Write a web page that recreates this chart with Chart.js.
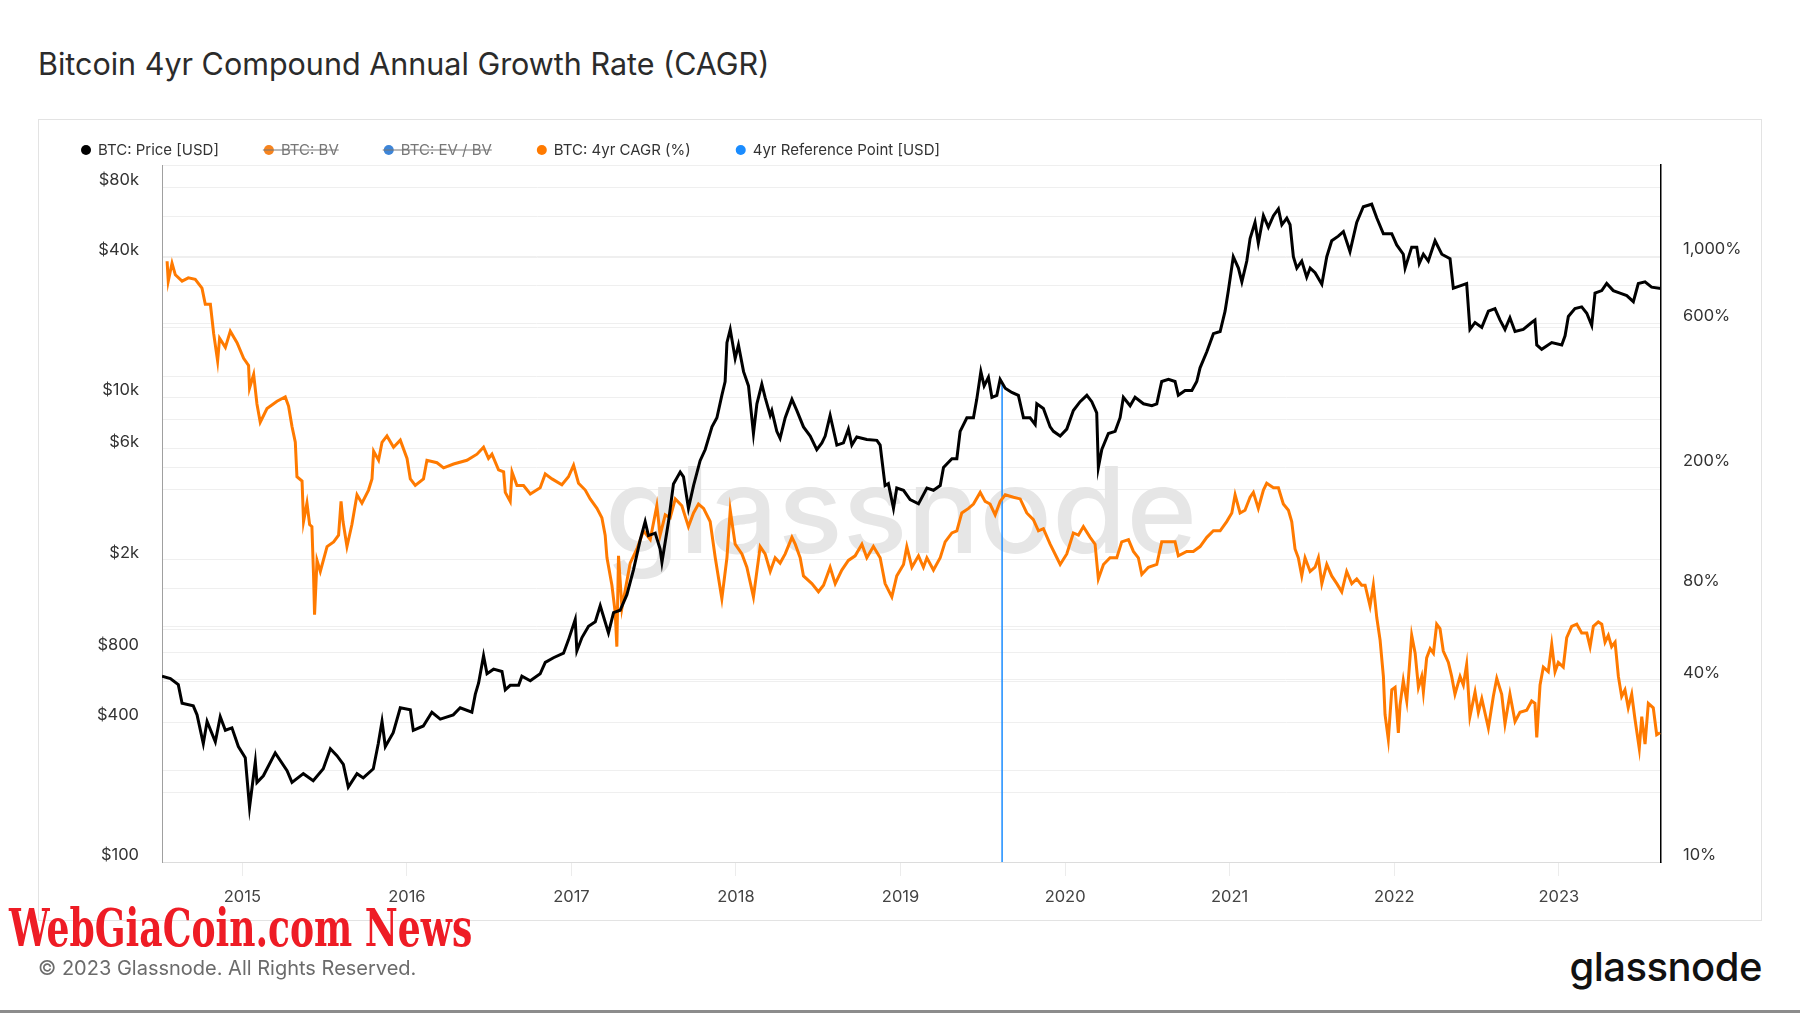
<!DOCTYPE html>
<html>
<head>
<meta charset="utf-8">
<script src="https://cdn.jsdelivr.net/npm/chart.js@4.4.0/dist/chart.umd.min.js"></script>
<style>
  html, body { margin: 0; padding: 0; background: #fff; }
  body { width: 1800px; height: 1013px; position: relative; overflow: hidden; font-family: Inter, 'Noto Sans', sans-serif; }
  #title { position: absolute; left: 38px; top: 45px; font-size: 30.5px; font-weight: 400; color: #2b2b2b; line-height: 38px; white-space: nowrap; }
  #card { position: absolute; left: 38px; top: 119px; width: 1724px; height: 802px; box-sizing: border-box; border: 1px solid #e3e3e3; }
  #wrap { position: absolute; left: 38px; top: 119px; width: 1724px; height: 802px; }
  #news { position: absolute; left: 9px; top: 898px; font-family: 'DejaVu Serif', serif; font-weight: bold; font-size: 52px; line-height: 60px; color: #ee1c25; white-space: nowrap; transform-origin: left top; }
  #copy { position: absolute; left: 38px; top: 955px; font-size: 20px; line-height: 26px; color: #6b6b6b; white-space: nowrap; }
  #logo { position: absolute; right: 38px; top: 943px; font-size: 40px; line-height: 48px; font-weight: 500; color: #111; letter-spacing: -0.5px; }
  #bottomline { position: absolute; left: 0; top: 1010px; width: 1800px; height: 3px; background: #8c8c8c; }
</style>
</head>
<body>
<div id="title">Bitcoin 4yr Compound Annual Growth Rate (CAGR)</div>
<div id="card"></div>
<div id="wrap"><canvas id="cagrChart"></canvas></div>
<div id="news">WebGiaCoin.com News</div>
<div id="copy">© 2023 Glassnode. All Rights Reserved.</div>
<div id="logo">glassnode</div>
<div id="bottomline"></div>
<script>
// BTC price [USD] (decimal years)
var priceYears = [
  2014.512, 2014.563, 2014.611, 2014.634, 2014.702, 2014.725, 2014.763, 2014.786, 2014.836, 2014.866, 2014.897, 2014.937, 2014.976,
  2015.018, 2015.044, 2015.079, 2015.089, 2015.128, 2015.200, 2015.272, 2015.302, 2015.371, 2015.431, 2015.492, 2015.535, 2015.575, 2015.614, 2015.644, 2015.697, 2015.735, 2015.796, 2015.826, 2015.849, 2015.869, 2015.917, 2015.960,
  2016.021, 2016.039, 2016.100, 2016.152, 2016.203, 2016.282, 2016.324, 2016.395, 2016.416, 2016.436, 2016.466, 2016.487, 2016.527, 2016.578, 2016.598, 2016.628, 2016.679, 2016.699, 2016.750, 2016.810, 2016.841, 2016.891, 2016.952, 2016.982,
  2017.023, 2017.033, 2017.064, 2017.104, 2017.145, 2017.175, 2017.225, 2017.256, 2017.296, 2017.337, 2017.377, 2017.418, 2017.448, 2017.468, 2017.509, 2017.539, 2017.550, 2017.590, 2017.620, 2017.661, 2017.681, 2017.711, 2017.742, 2017.782, 2017.813, 2017.854, 2017.884, 2017.914, 2017.934, 2017.945, 2017.965, 2017.995,
  2018.015, 2018.046, 2018.076, 2018.106, 2018.127, 2018.157, 2018.177, 2018.208, 2018.218, 2018.248, 2018.268, 2018.299, 2018.340, 2018.370, 2018.410, 2018.451, 2018.491, 2018.522, 2018.542, 2018.572, 2018.613, 2018.653, 2018.683, 2018.704, 2018.734, 2018.795, 2018.856, 2018.876, 2018.886, 2018.906, 2018.926, 2018.957, 2018.977,
  2019.018, 2019.058, 2019.109, 2019.160, 2019.200, 2019.241, 2019.261, 2019.312, 2019.342, 2019.362, 2019.403, 2019.443, 2019.463, 2019.488, 2019.508, 2019.534, 2019.555, 2019.585, 2019.605, 2019.636, 2019.676, 2019.716, 2019.747, 2019.787, 2019.818, 2019.828, 2019.868, 2019.909, 2019.929, 2019.970,
  2020.010, 2020.050, 2020.091, 2020.132, 2020.162, 2020.192, 2020.202, 2020.223, 2020.263, 2020.304, 2020.334, 2020.354, 2020.395, 2020.425, 2020.476, 2020.527, 2020.557, 2020.587, 2020.628, 2020.668, 2020.688, 2020.729, 2020.770, 2020.800, 2020.820, 2020.861, 2020.901, 2020.942, 2020.972, 2020.992,
  2021.022, 2021.053, 2021.074, 2021.104, 2021.124, 2021.154, 2021.174, 2021.205, 2021.235, 2021.266, 2021.296, 2021.317, 2021.347, 2021.367, 2021.387, 2021.408, 2021.438, 2021.468, 2021.489, 2021.519, 2021.560, 2021.590, 2021.620, 2021.660, 2021.691, 2021.731, 2021.772, 2021.812, 2021.863, 2021.894, 2021.934, 2021.985,
  2022.015, 2022.055, 2022.066, 2022.106, 2022.137, 2022.152, 2022.177, 2022.207, 2022.248, 2022.289, 2022.339, 2022.359, 2022.400, 2022.440, 2022.460, 2022.491, 2022.532, 2022.572, 2022.612, 2022.643, 2022.673, 2022.703, 2022.734, 2022.784, 2022.835, 2022.855, 2022.866, 2022.896, 2022.957,
  2023.018, 2023.038, 2023.058, 2023.098, 2023.139, 2023.170, 2023.200, 2023.220, 2023.261, 2023.291, 2023.331, 2023.372, 2023.413, 2023.453, 2023.483, 2023.524, 2023.564, 2023.621
];
var priceValues = [
  631, 616, 580, 482, 470, 430, 323, 403, 329, 422, 369, 378, 314,
  281, 172, 270, 220, 235, 295, 247, 220, 240, 224, 252, 307, 287, 263, 210, 240, 230, 252, 323, 403, 314, 360, 461,
  452, 369, 385, 441, 412, 430, 461, 441, 528, 590, 772, 646, 676, 661, 551, 576, 576, 631, 603, 646, 723, 757, 792, 904,
  1105, 810, 925, 1035, 1082, 1268, 968, 1185, 1212, 1415, 1810, 2436, 2918, 2540, 2604, 2222, 1950, 2918, 4240, 4770, 4550, 3330, 4170, 5340, 5960, 7460, 8170, 10200, 11700, 17200, 19600, 14700,
  16800, 12900, 11200, 6990, 9380, 11400, 10000, 8370, 8770, 7140, 6660, 8170, 9800, 8770, 7460, 6810, 5960, 6370, 6810, 8370, 6230, 6370, 7300, 6230, 6750, 6590, 6530, 6230, 5440, 4170, 4250, 3330, 4070,
  3980, 3630, 3480, 4070, 3980, 4170, 4990, 5440, 5440, 7140, 8170, 8170, 9800, 12900, 11200, 12200, 10000, 10200, 11950, 10950, 10500, 10200, 8170, 8170, 7640, 9380, 8950, 7460, 7140, 6810,
  7300, 8770, 9580, 10200, 9580, 8580, 4990, 5960, 6990, 7140, 8170, 10000, 9200, 10000, 9380, 9200, 9380, 11700, 11950, 11700, 10200, 10700, 10700, 11700, 13400, 15700, 18800, 19200, 23500, 28800,
  40300, 36000, 31400, 38600, 48200, 56600, 46100, 60500, 54000, 60500, 64700, 55300, 59100, 55300, 40300, 36000, 38600, 32900, 36000, 34400, 30700, 40300, 47200, 49400, 51700, 42400, 56600, 66100, 67800, 59100, 50600, 50600,
  45300, 41300, 36000, 44300, 44300, 37700, 41300, 38600, 47200, 41300, 39500, 29500, 30200, 30900, 19600, 21000, 20000, 23500, 24100, 21500, 19600, 22000, 19200, 19600, 21000, 21500, 16800, 16100, 17200,
  16800, 18400, 22300, 24100, 24500, 23000, 20400, 28100, 28800, 30900, 28800, 28100, 27400, 25800, 30900, 31400, 29800, 29400
];

// BTC 4yr CAGR [%]
var cagrYears = [
  2014.543, 2014.550, 2014.573, 2014.593, 2014.634, 2014.672, 2014.714, 2014.755, 2014.775, 2014.806, 2014.826, 2014.850, 2014.862, 2014.897, 2014.927, 2014.968,
  2015.008, 2015.038, 2015.044, 2015.069, 2015.089, 2015.109, 2015.150, 2015.211, 2015.261, 2015.281, 2015.302, 2015.322, 2015.332, 2015.363, 2015.372, 2015.393, 2015.409, 2015.423, 2015.433, 2015.439, 2015.454, 2015.474, 2015.515, 2015.555, 2015.585, 2015.600, 2015.612, 2015.636, 2015.666, 2015.697, 2015.727, 2015.767, 2015.788, 2015.798, 2015.828, 2015.849, 2015.879, 2015.919, 2015.960,
  2016.001, 2016.021, 2016.051, 2016.101, 2016.122, 2016.183, 2016.223, 2016.284, 2016.365, 2016.426, 2016.466, 2016.496, 2016.517, 2016.557, 2016.588, 2016.598, 2016.628, 2016.639, 2016.669, 2016.709, 2016.750, 2016.810, 2016.841, 2016.882, 2016.942, 2016.982,
  2017.013, 2017.043, 2017.084, 2017.114, 2017.155, 2017.185, 2017.205, 2017.216, 2017.246, 2017.266, 2017.276, 2017.286, 2017.307, 2017.327, 2017.357, 2017.398, 2017.438, 2017.479, 2017.519, 2017.539, 2017.570, 2017.600, 2017.631, 2017.671, 2017.711, 2017.742, 2017.772, 2017.803, 2017.843, 2017.874, 2017.914, 2017.945, 2017.965, 2017.995,
  2018.036, 2018.066, 2018.106, 2018.147, 2018.177, 2018.208, 2018.238, 2018.268, 2018.299, 2018.340, 2018.360, 2018.390, 2018.410, 2018.461, 2018.501, 2018.532, 2018.572, 2018.603, 2018.643, 2018.683, 2018.724, 2018.765, 2018.795, 2018.835, 2018.876, 2018.906, 2018.947, 2018.977,
  2019.018, 2019.038, 2019.069, 2019.109, 2019.139, 2019.160, 2019.200, 2019.241, 2019.271, 2019.312, 2019.342, 2019.372, 2019.413, 2019.443, 2019.484, 2019.514, 2019.544, 2019.575, 2019.605, 2019.636, 2019.686, 2019.727, 2019.767, 2019.807, 2019.838, 2019.868, 2019.909, 2019.950, 2019.970,
  2020.010, 2020.050, 2020.081, 2020.111, 2020.152, 2020.182, 2020.202, 2020.233, 2020.273, 2020.314, 2020.344, 2020.385, 2020.415, 2020.445, 2020.466, 2020.506, 2020.557, 2020.587, 2020.628, 2020.668, 2020.688, 2020.739, 2020.779, 2020.820, 2020.861, 2020.901, 2020.942, 2020.982,
  2021.013, 2021.033, 2021.063, 2021.093, 2021.124, 2021.144, 2021.174, 2021.205, 2021.225, 2021.266, 2021.296, 2021.326, 2021.357, 2021.377, 2021.397, 2021.417, 2021.438, 2021.458, 2021.489, 2021.519, 2021.539, 2021.560, 2021.590, 2021.620, 2021.651, 2021.681, 2021.711, 2021.742, 2021.772, 2021.802, 2021.823, 2021.853, 2021.873, 2021.894, 2021.914, 2021.934, 2021.944, 2021.964, 2021.985,
  2022.005, 2022.025, 2022.035, 2022.055, 2022.076, 2022.106, 2022.127, 2022.147, 2022.167, 2022.177, 2022.197, 2022.218, 2022.238, 2022.258, 2022.278, 2022.298, 2022.329, 2022.349, 2022.369, 2022.400, 2022.420, 2022.440, 2022.460, 2022.491, 2022.511, 2022.532, 2022.572, 2022.602, 2022.623, 2022.653, 2022.673, 2022.703, 2022.734, 2022.764, 2022.805, 2022.835, 2022.855, 2022.866, 2022.886, 2022.906, 2022.936, 2022.957, 2022.977, 2022.997,
  2023.027, 2023.048, 2023.078, 2023.109, 2023.139, 2023.170, 2023.190, 2023.210, 2023.240, 2023.261, 2023.281, 2023.301, 2023.321, 2023.342, 2023.362, 2023.382, 2023.402, 2023.422, 2023.443, 2023.463, 2023.489, 2023.504, 2023.524, 2023.544, 2023.574, 2023.595, 2023.615
];
var cagrValues = [
  962, 827, 948, 868, 827, 848, 839, 784, 694, 694, 555, 451, 536, 500, 565, 518,
  460, 436, 367, 407, 325, 283, 314, 332, 343, 320, 274, 243, 187, 181, 133, 153, 130, 128, 88, 65.5, 99, 91, 110, 114, 120, 155, 133, 110, 130, 163, 153, 169, 184, 227, 212, 243, 255, 234, 247,
  215, 184, 175, 184, 212, 208, 200, 206, 212, 222, 234, 215, 222, 197, 194, 166, 155, 194, 175, 175, 164, 172, 191, 184, 176, 187,
  204, 178, 169, 158, 147, 137, 120, 101, 82, 66.6, 51.4, 102.5, 69, 79, 97, 108, 124, 116, 150, 120, 140, 137, 158, 150, 128, 142, 152, 147, 133, 101, 74, 101, 145, 112,
  104, 94, 75, 110, 104, 91, 101, 97, 104, 118, 112, 101, 88, 83, 78, 82, 94, 83, 92, 99, 102.5, 112, 101, 110, 101, 83, 75, 88,
  96, 110, 94, 102.5, 94, 101, 92, 101, 114, 122, 124, 142, 147, 152, 166, 155, 152, 140, 155, 163, 160, 158, 142, 135, 124, 126, 112, 101, 96,
  104, 122, 120, 128, 118, 112, 86, 96, 101, 101, 114, 116, 106, 101, 89, 94, 96, 114, 114, 114, 102.5, 106, 106, 110, 118, 124, 124, 133,
  142, 163, 142, 145, 160, 166, 147, 169, 178, 172, 172, 152, 145, 133, 108, 101, 88, 101, 91, 94, 101, 83, 96, 88, 83, 78, 91, 83, 86, 82, 82, 70, 82, 64, 54, 41, 30.7, 25.4, 37,
  37.7, 26.7, 32.9, 39.7, 34, 56, 48.9, 37.7, 41, 36.4, 47.2, 50.6, 48.9, 61, 59, 49.7, 45.6, 41, 35.8, 41, 38.4, 44.8, 30.2, 36.4, 31.2, 34.6, 27.7, 35.2, 40.4, 35.8, 28.6, 35.8, 29.1, 31.2, 31.7, 34, 33.4, 25.8, 38.4, 44, 42.5, 52.3, 42.5, 45.6,
  44, 55, 60, 61, 57, 57, 51.4, 60, 62, 61, 53.2, 56, 51.4, 53.2, 41, 35.2, 37, 32.3, 35.8, 29.6, 23.7, 30.2, 24.5, 33.4, 32.3, 26.3, 26.7
];

// 4yr reference point: date and price there
var refYear = 2019.617;
var refPrice = 11600;

// axis ticks
var yearTicks = [2015, 2016, 2017, 2018, 2019, 2020, 2021, 2022, 2023];
var priceGrid = [100, 200, 400, 600, 800, 1000, 2000, 4000, 6000, 8000, 10000, 20000, 40000, 60000, 80000, 100000];
var priceTickLabels = [100, 400, 800, 2000, 6000, 10000, 40000, 80000];
var cagrGrid = [10, 20, 40, 60, 80, 100, 200, 400, 600, 800, 1000, 2000];
var cagrTickLabels = [10, 40, 80, 200, 600, 1000];

function toPoints(xs, ys) {
    return xs.map(function (x, i) { return { x: x, y: ys[i] }; });
}

// legend drawn on top of the card, hidden series struck through
var legendPlugin = {
    id: 'cardLegend',
    afterDraw: function (chart) {
        var ctx = chart.ctx;
        var x = 48, y = 31;
        ctx.save();
        ctx.font = '15px Inter';
        ctx.textBaseline = 'middle';
        chart.data.datasets.forEach(function (ds, i) {
            var hidden = !chart.isDatasetVisible(i);
            ctx.fillStyle = ds.legendColor;
            ctx.beginPath();
            ctx.arc(x, y, 5, 0, Math.PI * 2);
            ctx.fill();
            var tx = x + 12;
            ctx.fillStyle = hidden ? '#777' : '#333';
            ctx.fillText(ds.label, tx, y);
            var w = ctx.measureText(ds.label).width;
            if (hidden) {
                ctx.strokeStyle = '#777';
                ctx.lineWidth = 1;
                ctx.beginPath();
                ctx.moveTo(x - 6, y);
                ctx.lineTo(tx + w, y);
                ctx.stroke();
            }
            x = tx + w + 50;
        });
        ctx.restore();
    }
};

// faint "glassnode" watermark behind the lines
var watermarkPlugin = {
    id: 'watermark',
    beforeDatasetsDraw: function (chart) {
        var ctx = chart.ctx;
        var area = chart.chartArea;
        ctx.save();
        ctx.font = '500 100px Inter';
        var size = 100 * 592 / ctx.measureText('glassnode').width;
        ctx.font = '500 ' + size + 'px Inter';
        ctx.fillStyle = '#e6e6e6';
        ctx.textAlign = 'center';
        ctx.textBaseline = 'alphabetic';
        ctx.fillText('glassnode', area.left + 739, area.top + 388);
        ctx.restore();
    }
};

window.onload = function () {
    Chart.defaults.font.family = 'Inter, "Noto Sans", sans-serif';

    var ctx = document.getElementById('cagrChart').getContext('2d');
    var cagrChart = new Chart(ctx, {
        type: 'line',
        data: {
            datasets: [{
                label: 'BTC: Price [USD]',
                data: toPoints(priceYears, priceValues),
                yAxisID: 'y',
                borderColor: '#000',
                legendColor: '#000',
                borderWidth: 3,
                pointRadius: 0,
                fill: false
            }, {
                label: 'BTC: BV',
                data: [],
                hidden: true,
                yAxisID: 'y',
                borderColor: '#f7841e',
                legendColor: '#f7841e'
            }, {
                label: 'BTC: EV / BV',
                data: [],
                hidden: true,
                yAxisID: 'y',
                borderColor: '#3d85d8',
                legendColor: '#3d85d8'
            }, {
                label: 'BTC: 4yr CAGR (%)',
                data: toPoints(cagrYears, cagrValues),
                yAxisID: 'yCagr',
                borderColor: '#ff7a00',
                legendColor: '#ff7a00',
                borderWidth: 3,
                pointRadius: 0,
                fill: false
            }, {
                label: '4yr Reference Point [USD]',
                data: [{ x: refYear, y: 100 }, { x: refYear, y: refPrice }],
                yAxisID: 'y',
                borderColor: '#1a8cff',
                legendColor: '#1a8cff',
                borderWidth: 1.5,
                pointRadius: 0,
                fill: false
            }]
        },
        options: {
            responsive: true,
            maintainAspectRatio: false,
            animation: false,
            layout: { padding: { top: 46, left: 0, right: 0, bottom: 0 } },
            plugins: {
                legend: { display: false },
                tooltip: { enabled: false }
            },
            scales: {
                x: {
                    type: 'linear',
                    min: 2014.512,
                    max: 2023.621,
                    afterBuildTicks: function (axis) {
                        axis.ticks = yearTicks.map(function (v) { return { value: v }; });
                    },
                    afterFit: function (axis) { axis.height = 59; },
                    ticks: {
                        callback: function (v) { return String(v); },
                        font: { size: 16.5 },
                        color: '#444',
                        padding: 11,
                        maxRotation: 0
                    },
                    grid: { drawOnChartArea: false, drawTicks: true, tickLength: 14, color: '#ececec' },
                    border: { color: '#dcdcdc', width: 1 }
                },
                y: {
                    type: 'logarithmic',
                    position: 'left',
                    min: 100,
                    max: 100000,
                    afterBuildTicks: function (axis) {
                        axis.ticks = priceGrid.map(function (v) { return { value: v }; });
                    },
                    afterFit: function (axis) { axis.width = 124; },
                    ticks: {
                        autoSkip: false,
                        padding: 23,
                        labelOffset: -7,
                        font: { size: 16.5 },
                        color: '#333',
                        callback: function (v) {
                            if (priceTickLabels.indexOf(v) < 0) return '';
                            return v >= 1000 ? '$' + (v / 1000) + 'k' : '$' + v;
                        }
                    },
                    grid: { color: '#efefef', drawTicks: false },
                    border: { color: '#a0a0a0', width: 1 }
                },
                yCagr: {
                    type: 'logarithmic',
                    position: 'right',
                    min: 10,
                    max: 2000,
                    afterBuildTicks: function (axis) {
                        axis.ticks = cagrGrid.map(function (v) { return { value: v }; });
                    },
                    afterFit: function (axis) { axis.width = 101; },
                    ticks: {
                        autoSkip: false,
                        padding: 22,
                        labelOffset: -7,
                        font: { size: 16.5 },
                        color: '#333',
                        callback: function (v) {
                            if (cagrTickLabels.indexOf(v) < 0) return '';
                            return v.toLocaleString('en-US') + '%';
                        }
                    },
                    grid: { color: '#efefef', drawTicks: false },
                    border: { color: '#000', width: 1.5 }
                }
            }
        },
        plugins: [legendPlugin, watermarkPlugin]
    });

    // stretch the overlaid site stamp to its width in the picture
    var news = document.getElementById('news');
    news.style.transform = 'scaleX(' + (463 / news.offsetWidth) + ')';
};
</script>
</body>
</html>
